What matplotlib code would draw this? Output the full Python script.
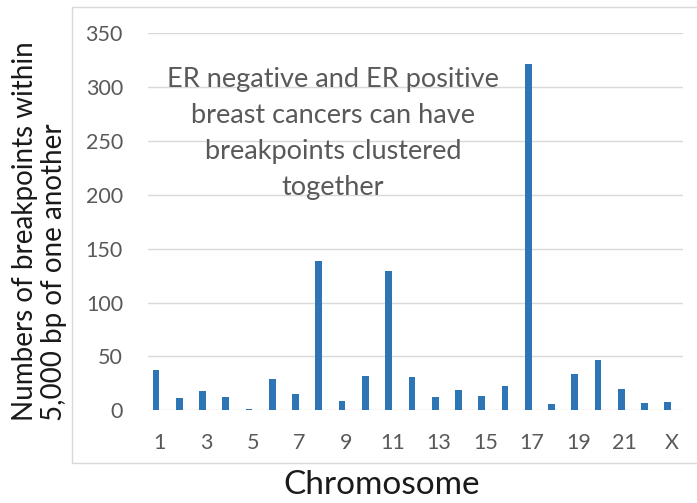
import matplotlib
matplotlib.use("Agg")
from matplotlib import pyplot as plt
from matplotlib.patches import Rectangle
import numpy as np

plt.rcParams['font.family'] = ['Lato', 'DejaVu Sans']

chromosomes = [str(i) for i in range(1, 23)] + ["X"]
breakpoints = [37, 11, 18, 12, 1, 29, 15, 139, 9, 32, 129, 31,
               12, 19, 13, 23, 322, 6, 34, 47, 20, 7, 8]
shown_labels = ["1", "3", "5", "7", "9", "11", "13", "15", "17", "19", "21", "X"]
y_ticks = [0, 50, 100, 150, 200, 250, 300, 350]

bar_color = "#2E75B6"
grid_color = "#D9D9D9"
tick_color = "#595959"

fig = plt.figure(figsize=(6.97, 5.03), dpi=100)

# chart area border
fig.patches.append(Rectangle((0.1029, 0.0795), 0.92, 0.9065, transform=fig.transFigure,
                             fill=False, edgecolor=grid_color, linewidth=1.0, clip_on=False))

ax = fig.add_axes([0.2123, 0.1843, 0.7676, 0.7493])
x = np.arange(len(chromosomes))
ax.bar(x - 0.155, breakpoints, width=0.29, color=bar_color, zorder=3)

ax.set_xlim(-0.5, len(chromosomes) - 0.5)
ax.set_ylim(0, 350)
ax.set_yticks(y_ticks)
ax.set_yticklabels([str(v) for v in y_ticks])
ax.set_xticks([chromosomes.index(c) for c in shown_labels])
ax.set_xticklabels(shown_labels)
ax.grid(axis="y", color=grid_color, linewidth=1.0, zorder=0)
ax.set_axisbelow(True)
for s in ax.spines.values():
    s.set_visible(False)
ax.tick_params(axis="both", length=0, labelsize=15.5, colors=tick_color)
ax.tick_params(axis="y", pad=18)
ax.tick_params(axis="x", pad=16)

ax.text(7.45, 319,
        "ER negative and ER positive\nbreast cancers can have\nbreakpoints clustered\ntogether",
        ha="center", va="top", fontsize=19.5, color=tick_color, linespacing=1.56)

fig.text(0.057, 0.163, "Numbers of breakpoints within\n5,000 bp of one another",
         rotation=90, ha="center", va="bottom", multialignment="left",
         fontsize=20, color="#1a1a1a", linespacing=1.15)
fig.text(0.548, 0.035, "Chromosome", ha="center", va="center",
         fontsize=24, color="#1a1a1a")

fig.savefig("out.png", dpi=100)
